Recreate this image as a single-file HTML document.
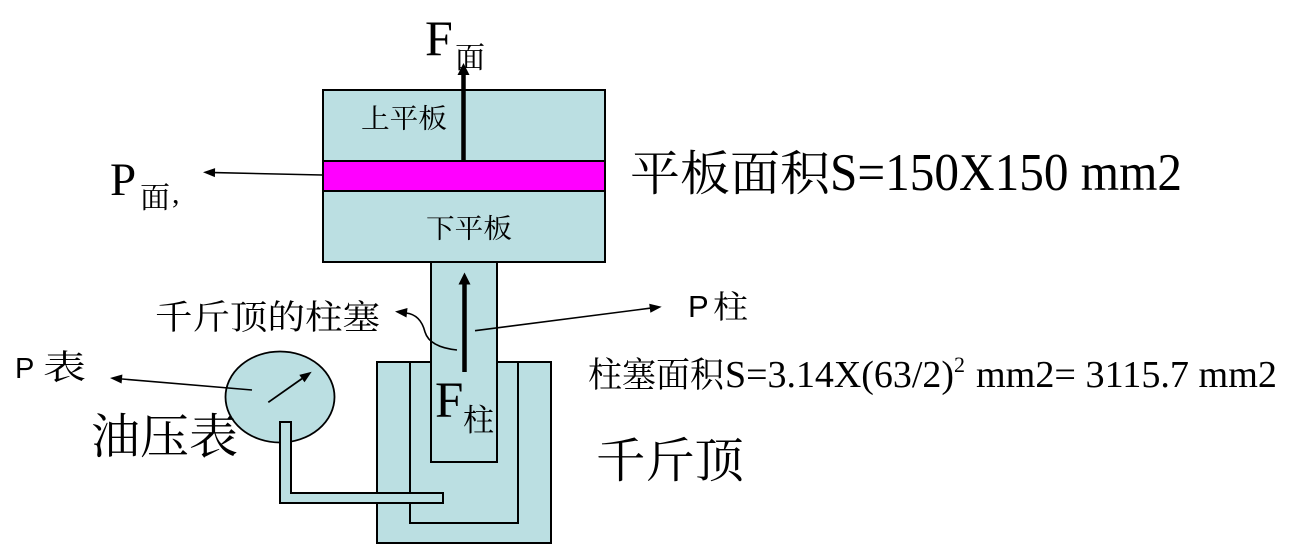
<!DOCTYPE html>
<html>
<head>
<meta charset="utf-8">
<style>
  html,body{margin:0;padding:0;background:#fff;}
  svg{display:block;}
  .cjk{font-family:"Noto Serif CJK SC","Noto Sans CJK SC",serif;}
  .ser{font-family:"Liberation Serif",serif;}
  .san{font-family:"Liberation Sans",sans-serif;}
</style>
</head>
<body>
<svg width="1308" height="544" viewBox="0 0 1308 544" xmlns="http://www.w3.org/2000/svg">
  <rect x="0" y="0" width="1308" height="544" fill="#fff"/>

  <!-- Upper/lower plate box -->
  <rect x="323" y="90" width="282" height="172" fill="#BBDFE2" stroke="#000" stroke-width="2"/>
  <rect x="323" y="161" width="282" height="30" fill="#FF00FF" stroke="#000" stroke-width="2"/>

  <!-- Jack cylinder -->
  <rect x="377" y="362" width="174" height="181" fill="#BBDFE2" stroke="#000" stroke-width="2"/>
  <path d="M410,362 V523 H518 V362" fill="none" stroke="#000" stroke-width="2"/>

  <!-- Piston -->
  <rect x="431" y="262" width="66" height="200" fill="#BBDFE2" stroke="#000" stroke-width="2"/>

  <!-- Gauge -->
  <ellipse cx="280" cy="397" rx="54.5" ry="45.5" fill="#BBDFE2" stroke="#000" stroke-width="1.8"/>
  <polygon points="280,422 291,422 291,493 443,493 443,503 280,503" fill="#BBDFE2" stroke="#000" stroke-width="2"/>

  <!-- F面 arrow -->
  <line x1="463.5" y1="161" x2="463.5" y2="72" stroke="#000" stroke-width="4.5"/>
  <polygon points="463.5,63 457.5,75 469.5,75" fill="#000"/>

  <!-- F柱 arrow -->
  <line x1="464.5" y1="372" x2="464.5" y2="282" stroke="#000" stroke-width="4.5"/>
  <polygon points="464.5,272.5 458.5,284.5 470.5,284.5" fill="#000"/>

  <!-- P面 arrow -->
  <line x1="322" y1="175" x2="214" y2="172.6" stroke="#000" stroke-width="1.6"/>
  <polygon points="203,172.3 215.1,168.1 214.9,177.1" fill="#000"/>

  <!-- P柱 arrow -->
  <line x1="475" y1="330.7" x2="650" y2="308.2" stroke="#000" stroke-width="1.6"/>
  <polygon points="661.7,306.7 650.4,312.7 649.2,303.8" fill="#000"/>

  <!-- P表 arrow -->
  <line x1="252" y1="390" x2="122" y2="379" stroke="#000" stroke-width="1.6"/>
  <polygon points="110,378 122.4,374.5 121.6,383.5" fill="#000"/>

  <!-- Gauge needle -->
  <line x1="268.3" y1="402.3" x2="302" y2="378.6" stroke="#000" stroke-width="1.8"/>
  <polygon points="311.7,371.7 304.5,382.3 299.3,374.9" fill="#000"/>

  <!-- Curved arrow to 千斤顶的柱塞 -->
  <path d="M457,350 C438,348 428,342 425,332 C422,320 415,314 406,313" fill="none" stroke="#000" stroke-width="1.6"/>
  <polygon points="395,311.5 407.5,308 406.5,317.5" fill="#000"/>

  <!-- Labels -->
  <text class="ser" x="425" y="55" font-size="50">F</text>
  <text class="cjk" x="455" y="68" font-size="30">面</text>

  <text class="cjk" x="361" y="128" font-size="27" textLength="86" lengthAdjust="spacingAndGlyphs">上平板</text>
  <text class="cjk" x="426" y="238" font-size="27" textLength="86" lengthAdjust="spacingAndGlyphs">下平板</text>

  <text class="ser" x="110" y="195" font-size="47">P</text>
  <text class="cjk" x="140" y="208" font-size="30">面</text>
  <text class="ser" x="172" y="203" font-size="30">,</text>

  <text class="cjk" x="630" y="190" font-size="48" textLength="200" lengthAdjust="spacingAndGlyphs">平板面积</text>
  <text class="ser" x="830" y="190" font-size="53" textLength="352" lengthAdjust="spacingAndGlyphs">S=150X150 mm2</text>

  <text class="cjk" x="155" y="329" font-size="34" textLength="225" lengthAdjust="spacingAndGlyphs">千斤顶的柱塞</text>

  <text class="san" x="688" y="317" font-size="31">P</text>
  <text class="cjk" x="713" y="318" font-size="32" textLength="35" lengthAdjust="spacingAndGlyphs">柱</text>

  <text class="san" x="15" y="378" font-size="29">P</text>
  <text class="cjk" x="43" y="379" font-size="34" textLength="43" lengthAdjust="spacingAndGlyphs">表</text>

  <text class="cjk" x="588" y="387" font-size="35" textLength="136" lengthAdjust="spacingAndGlyphs">柱塞面积</text>
  <text class="ser" x="725" y="387" font-size="38" textLength="229" lengthAdjust="spacingAndGlyphs">S=3.14X(63/2)</text>
  <text class="ser" x="954" y="372" font-size="22">2</text>
  <text class="ser" x="976" y="387" font-size="38" textLength="301" lengthAdjust="spacingAndGlyphs">mm2= 3115.7 mm2</text>

  <text class="ser" x="435" y="417" font-size="51">F</text>
  <text class="cjk" x="463" y="431" font-size="31">柱</text>

  <text class="cjk" x="91" y="453" font-size="48" textLength="147" lengthAdjust="spacingAndGlyphs">油压表</text>
  <text class="cjk" x="596" y="477" font-size="48" textLength="148" lengthAdjust="spacingAndGlyphs">千斤顶</text>
</svg>
</body>
</html>
